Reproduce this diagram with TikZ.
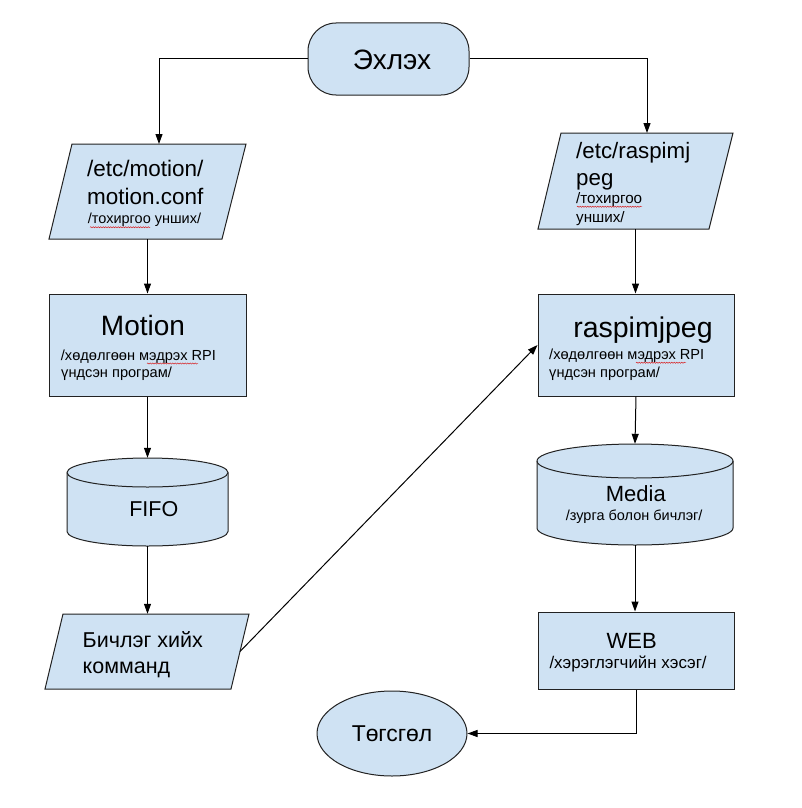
\documentclass[tikz,border=0pt]{standalone}
\usepackage{fontspec}
\setmainfont{Liberation Sans}
\usetikzlibrary{arrows.meta,shapes.geometric,calc,decorations.pathmorphing}
\definecolor{boxfill}{HTML}{CFE2F3}
\definecolor{edgecol}{HTML}{222222}
\newcommand\myfs[1]{\fontsize{#1pt}{#1pt}\selectfont}
\begin{document}
\begin{tikzpicture}[x=1pt,y=-1pt,
  shapebox/.style={draw=edgecol, fill=boxfill, line width=1pt, inner sep=0pt},
  holder/.style={inner sep=0pt, draw=none, rectangle},
  arr/.style={draw=black, line width=1pt, -{Triangle[length=10pt,width=7pt]}},
  txtl/.style={inner sep=0pt, anchor=base west, text=black},
  txtc/.style={inner sep=0pt, anchor=base, text=black},
  squig/.style={draw=red!85!black, line width=0.4pt, decorate, decoration={snake, amplitude=0.6pt, segment length=2.5pt}}
]
\useasboundingbox (0,0) rectangle (801,808);
\fill[white] (0,0) rectangle (801,808);

% start / end / boxes
\node[shapebox, rectangle, rounded corners=28pt, minimum width=161pt, minimum height=72pt] (start) at (388.5,59) {};
\node[shapebox, rectangle, minimum width=197pt, minimum height=102pt] (motion) at (147.5,345) {};
\node[shapebox, rectangle, minimum width=196pt, minimum height=102pt] (rasp) at (636,345) {};
\node[shapebox, rectangle, minimum width=196pt, minimum height=77pt] (web) at (636,650.5) {};
\node[shapebox, ellipse, minimum width=150pt, minimum height=85pt] (end) at (392,733.5) {};

% parallelograms
\node[holder, minimum width=197pt, minimum height=95pt] (p1) at (147.5,191.5) {};
\coordinate (p1tl) at (72,144); \coordinate (p1tr) at (246,144);
\coordinate (p1br) at (222,239); \coordinate (p1bl) at (49,239);
\draw[shapebox] (p1tl) -- (p1tr) -- (p1br) -- (p1bl) -- cycle;

\node[holder, minimum width=195pt, minimum height=96pt] (p2) at (635.5,181) {};
\coordinate (p2tl) at (561,133); \coordinate (p2tr) at (733,133);
\coordinate (p2br) at (709,229); \coordinate (p2bl) at (538,229);
\draw[shapebox] (p2tl) -- (p2tr) -- (p2br) -- (p2bl) -- cycle;

\node[holder, minimum width=204pt, minimum height=75pt] (p3) at (147,651.5) {};
\coordinate (p3tl) at (63,614); \coordinate (p3tr) at (249,614);
\coordinate (p3br) at (231,689); \coordinate (p3bl) at (45,689);
\draw[shapebox] (p3tl) -- (p3tr) -- (p3br) -- (p3bl) -- cycle;

% cylinders
\node[holder, minimum width=161pt, minimum height=88pt] (fifo) at (147.5,502) {};
\draw[shapebox] (67,472.5) -- (67,531.5) arc[start angle=180,end angle=360,x radius=80.5pt,y radius=14.5pt] -- (228,472.5) arc[start angle=0,end angle=180,x radius=80.5pt,y radius=14.5pt] -- cycle;
\draw[draw=edgecol, line width=1pt] (67,472.5) arc[start angle=180,end angle=360,x radius=80.5pt,y radius=14.5pt];

\node[holder, minimum width=196pt, minimum height=101pt] (media) at (635,494.5) {};
\draw[shapebox] (537,461) -- (537,528) arc[start angle=180,end angle=360,x radius=98pt,y radius=17pt] -- (733,461) arc[start angle=0,end angle=180,x radius=98pt,y radius=17pt] -- cycle;
\draw[draw=edgecol, line width=1pt] (537,461) arc[start angle=180,end angle=360,x radius=98pt,y radius=17pt];

% texts
\node[txtc, font=\myfs{28}] (tstart) at (392,69.3) {Эхлэх};

\node[txtl, font=\myfs{22.5}] (tp1a) at (87,176.7) {/etc/motion/};
\node[txtl, font=\myfs{22.5}] (tp1b) at (87,204) {motion.conf};
\node[txtl, font=\myfs{14.5}] (tp1c) at (87.7,223.3) {/тохиргоо унших/};

\node[txtl, font=\myfs{22.3}] (tp2a) at (576,158.3) {/etc/raspimj};
\node[txtl, font=\myfs{22.3}] (tp2b) at (576,185) {peg};
\node[txtl, font=\myfs{15.2}] (tp2c) at (576,203.3) {/тохиргоо};
\node[txtl, font=\myfs{15.2}] (tp2d) at (576,222.7) {унших/};

\node[txtc, font=\myfs{28}] (tma) at (143,335) {Motion};
\node[txtl, font=\myfs{14.6}] (tmb) at (60.7,360) {/хөдөлгөөн мэдрэх RPI};
\node[txtl, font=\myfs{14.6}] (tmc) at (61,377) {үндсэн програм/};

\node[txtc, font=\myfs{28.5}] (tra) at (643,337.3) {raspimjpeg};
\node[txtl, font=\myfs{14.6}] (trb) at (549,359) {/хөдөлгөөн мэдрэх RPI};
\node[txtl, font=\myfs{14.6}] (trc) at (549,377) {үндсэн програм/};

\node[txtc, font=\myfs{21.5}] (tfifo) at (153.8,516.7) {FIFO};

\node[txtc, font=\myfs{22}] (tmda) at (635.8,501.7) {Media};
\node[txtc, font=\myfs{14.5}] (tmdb) at (634.2,520.7) {/зурга болон бичлэг/};

\node[txtl, font=\myfs{21.5}] (tp3a) at (82.5,647.3) {Бичлэг хийх};
\node[txtl, font=\myfs{21.5}] (tp3b) at (82.5,673.3) {комманд};

\node[txtc, font=\myfs{22}] (twa) at (631.7,648.3) {WEB};
\node[txtl, font=\myfs{16.9}] (twb) at (549.3,668.3) {/хэрэглэгчийн хэсэг/};

\node[txtc, font=\myfs{22.9}] (tend) at (392,741.7) {Төгсгөл};

% spell-check marks
\draw[squig] (90,227.3) -- (150,227.3);
\draw[squig] (577,206.7) -- (642,206.7);
\draw[squig] (147,363.5) -- (198,363.5);
\draw[squig] (636,362.7) -- (686,362.7);

% connectors
\draw[arr] (start.west) -| ($(p1tl)!0.5!(p1tr)$);
\draw[arr] (start.east) -| ($(p2tl)!0.5!(p2tr)$);
\draw[arr] (p1.south) -- (motion.north);
\draw[arr] (p2.south) -- (p2.south |- rasp.north);
\draw[arr] (motion.south) -- (fifo.north);
\draw[arr] (fifo.south) -- (fifo.south |- p3.north);
\draw[arr] ($(p3tr)!0.5!(p3br)$) -- (rasp.west);
\draw[arr] (rasp.south) -- (media.north);
\draw[arr] (media.south) -- (media.south |- web.north);
\draw[arr] (web.south) |- (end.east);
\end{tikzpicture}
\end{document}
